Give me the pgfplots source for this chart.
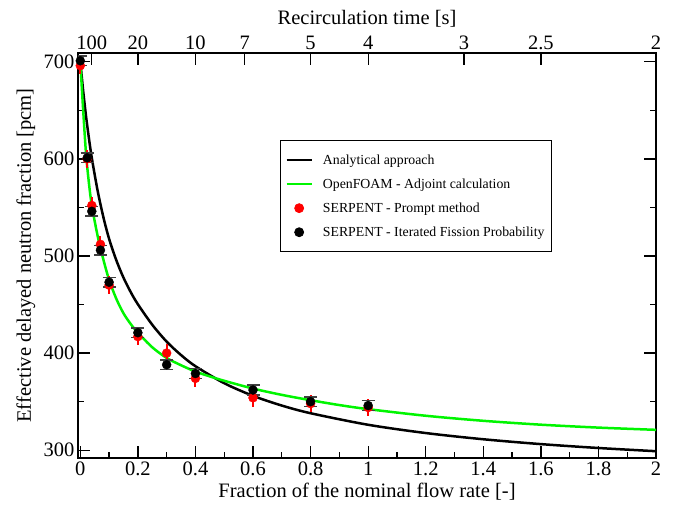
\documentclass[border=0pt]{standalone}
\usepackage{pgfplots}
\pgfplotsset{compat=1.18}
\usepackage{fontspec}
\setmainfont{Liberation Serif}
\definecolor{lgreen}{RGB}{0,245,0}
\begin{document}
\begin{tikzpicture}
\pgfplotsset{
 every axis/.append style={
  width=578pt, height=405pt, scale only axis,
  xmin=-0.008, xmax=2, ymin=292, ymax=709,
  /pgf/number format/assume math mode=true,
  tick label style={font=\fontsize{20.5}{24}\selectfont},
  label style={font=\fontsize{20.5}{24}\selectfont},
  axis line style={line width=1.8pt},
  tick align=inside,
  major tick length=12pt, minor tick length=6pt,
  every tick/.style={black, line width=1.3pt},
 }
}
\begin{axis}[
 xtick={0,0.2,0.4,0.6,0.8,1,1.2,1.4,1.6,1.8,2},
 ytick={300,400,500,600,700},
 minor tick num=1,
 xtick pos=left, ytick pos=both,
 xlabel={Fraction of the nominal flow rate [-]},
 ylabel={Effective delayed neutron fraction [pcm]},
 xlabel style={at={(rel axis cs:0.5,-0.084)}, anchor=center},
 ylabel style={at={(rel axis cs:-0.09,0.5)}, anchor=center},
 legend cell align=left,
 legend image code/.code={\draw[mark repeat=2,mark phase=2,#1] plot coordinates {(0pt,0pt) (12.5pt,0pt) (25pt,0pt)};},
 legend style={at={(0.3495,0.785)}, anchor=north west, draw=black, line width=0.8pt,
   font=\fontsize{13.8}{16}\selectfont, row sep=9pt, inner xsep=5pt, inner ysep=12pt,
   /tikz/every odd column/.append style={column sep=8pt}},
]
\addplot[black, line width=2.5pt, smooth] coordinates {
(0,700) (0.01,669.9) (0.02,643.8) (0.03,621.1) (0.04,600.9) (0.06,567.5) (0.08,540.2)
(0.1,517.7) (0.125,495.7) (0.15,477.7) (0.175,462.9) (0.2,450.3) (0.25,429.2)
(0.3,411.8) (0.35,398.0) (0.4,386.5) (0.5,369.0) (0.6,356.0) (0.7,346.0) (0.8,338.1)
(1.0,326.2) (1.2,317.7) (1.4,311.3) (1.6,306.3) (1.8,302.3) (2.0,299.0)};
\addlegendentry{Analytical approach}
\addplot[lgreen, line width=2.5pt, smooth] coordinates {
(0,700) (0.01,650) (0.02,605) (0.03,575) (0.04,552) (0.06,521) (0.08,496.5) (0.1,475.5)
(0.125,456) (0.15,441) (0.175,430) (0.2,421) (0.25,406) (0.3,395) (0.35,387.5)
(0.4,381) (0.45,376) (0.5,371.5) (0.6,363.5) (0.7,357) (0.8,351.5) (0.9,346.5)
(1.0,342.3) (1.2,335.5) (1.4,330.3) (1.6,326.3) (1.8,323.3) (2.0,321)};
\addlegendentry{OpenFOAM - Adjoint calculation}
\addplot[only marks, mark=*, mark size=4.5pt, mark options={draw=red, fill=red},
  error bars/.cd, y dir=both, y explicit, error mark=none,
  error bar style={red, line width=2pt}]
 table[x=x, y=y, y error=e] {
x y e
0 696 9
0.024 600 9
0.04 552 9
0.07 512 9
0.1 470 9
0.2 417 9
0.3 400 9
0.4 374 9
0.6 354 9
0.8 348 9
1.0 344 9
};
\addlegendentry{SERPENT - Prompt method}
\addplot[only marks, mark=*, mark size=4.5pt, mark options={draw=black, fill=black},
  error bars/.cd, y dir=both, y explicit, error mark=|,
  error mark options={mark size=6.5pt, line width=1.5pt, black!75},
  error bar style={black!75, line width=1.5pt}]
 table[x=x, y=y, y error=e] {
x y e
0 701 5
0.024 601 5
0.04 546 5
0.07 506 5
0.1 473 5
0.2 421 5
0.3 388 5
0.4 379 5
0.6 362 5
0.8 350 5
1.0 346 5
};
\addlegendentry{SERPENT - Iterated Fission Probability}
\end{axis}
\begin{axis}[
 axis x line*=top, axis y line=none,
 xtick={0.04,0.2,0.4,0.571428,0.8,1,1.333333,1.6,2},
 xticklabels={100,20,10,7,5,4,3,2.5,2},
 minor xtick={},
 xlabel={Recirculation time [s]},
 xlabel style={at={(rel axis cs:0.5,1.084)}, anchor=center},
]
\end{axis}
\pgfresetboundingbox
\path[use as bounding box] ([shift={(-78pt,-47pt)}]current axis.south west) rectangle ([shift={(17pt,53pt)}]current axis.north east);
\end{tikzpicture}
\end{document}
